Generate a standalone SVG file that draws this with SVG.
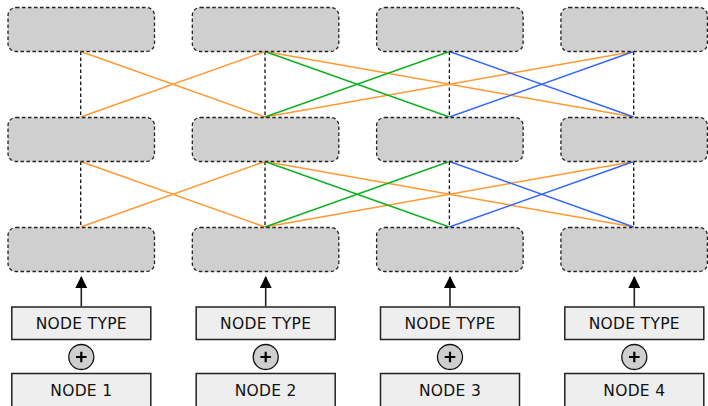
<svg xmlns="http://www.w3.org/2000/svg" width="708" height="406" viewBox="0 0 708 406">
  <style>
    .cell { fill: #cfcfcf; stroke: #222; stroke-width: 1.3; stroke-dasharray: 3.5 2.5; }
    .in { fill: #eeeeee; stroke: #222; stroke-width: 1.5; }
    .lbl { font-family: "DejaVu Sans", "Liberation Sans", sans-serif; font-size: 15.5px; letter-spacing: 0.3px; fill: #111; text-anchor: middle; }
    .v { stroke: #111; stroke-width: 1.3; stroke-dasharray: 3.5 2.5; fill: none; }
    .o { stroke: #ff9933; stroke-width: 1.5; fill: none; }
    .g { stroke: #11b022; stroke-width: 1.5; fill: none; }
    .b { stroke: #3366ff; stroke-width: 1.5; fill: none; }
    .arr { stroke: #222; stroke-width: 1.6; fill: none; }
    .add { fill: #cfcfcf; stroke: #111; stroke-width: 1.3; }
    .plus { stroke: #000; stroke-width: 2.2; fill: none; }
  </style>
  <defs>
    <marker id="head" viewBox="0 0 12 12" refX="11" refY="6" markerWidth="12" markerHeight="12" markerUnits="userSpaceOnUse" orient="auto">
      <path d="M0,0 L12,6 L0,12 Z" fill="#000"/>
    </marker>
  </defs>

  <!-- connectors -->
  <g id="connectors">
    <!-- layer 1 to layer 2 -->
    <path class="v" d="M80.7,51.5 V117 M265,51.5 V117 M449.4,51.5 V117 M633.7,51.5 V117"/>
    <path class="o" d="M80.7,51.5 L265,117 M265,51.5 L80.7,117 M265,51.5 L633.7,117 M633.7,51.5 L265,117"/>
    <path class="g" d="M265,51.5 L449.4,117 M449.4,51.5 L265,117"/>
    <path class="b" d="M449.4,51.5 L633.7,117 M633.7,51.5 L449.4,117"/>
    <!-- layer 2 to layer 3 -->
    <path class="v" d="M80.7,161.5 V227 M265,161.5 V227 M449.4,161.5 V227 M633.7,161.5 V227"/>
    <path class="o" d="M80.7,161.5 L265,227 M265,161.5 L80.7,227 M265,161.5 L633.7,227 M633.7,161.5 L265,227"/>
    <path class="g" d="M265,161.5 L449.4,227 M449.4,161.5 L265,227"/>
    <path class="b" d="M449.4,161.5 L633.7,227 M633.7,161.5 L449.4,227"/>
    <!-- inputs into layer 3 -->
    <path class="arr" marker-end="url(#head)" d="M81.3,306.5 V277"/>
    <path class="arr" marker-end="url(#head)" d="M265.7,306.5 V277"/>
    <path class="arr" marker-end="url(#head)" d="M450,306.5 V277"/>
    <path class="arr" marker-end="url(#head)" d="M634.3,306.5 V277"/>
  </g>

  <!-- layer 1 -->
  <g id="n1-1"><rect class="cell" x="8" y="7.5" width="146.5" height="44" rx="8"/></g>
  <g id="n1-2"><rect class="cell" x="192.3" y="7.5" width="146.5" height="44" rx="8"/></g>
  <g id="n1-3"><rect class="cell" x="376.6" y="7.5" width="146.5" height="44" rx="8"/></g>
  <g id="n1-4"><rect class="cell" x="560.9" y="7.5" width="146.5" height="44" rx="8"/></g>
  <!-- layer 2 -->
  <g id="n2-1"><rect class="cell" x="8" y="117.5" width="146.5" height="44" rx="8"/></g>
  <g id="n2-2"><rect class="cell" x="192.3" y="117.5" width="146.5" height="44" rx="8"/></g>
  <g id="n2-3"><rect class="cell" x="376.6" y="117.5" width="146.5" height="44" rx="8"/></g>
  <g id="n2-4"><rect class="cell" x="560.9" y="117.5" width="146.5" height="44" rx="8"/></g>
  <!-- layer 3 -->
  <g id="n3-1"><rect class="cell" x="8" y="227.5" width="146.5" height="44" rx="8"/></g>
  <g id="n3-2"><rect class="cell" x="192.3" y="227.5" width="146.5" height="44" rx="8"/></g>
  <g id="n3-3"><rect class="cell" x="376.6" y="227.5" width="146.5" height="44" rx="8"/></g>
  <g id="n3-4"><rect class="cell" x="560.9" y="227.5" width="146.5" height="44" rx="8"/></g>

  <!-- type embeddings -->
  <g id="type-1"><rect class="in" x="11.8" y="307" width="139" height="32.5"/><text class="lbl" x="81.3" y="329">NODE TYPE</text></g>
  <g id="type-2"><rect class="in" x="196.2" y="307" width="139" height="32.5"/><text class="lbl" x="265.7" y="329">NODE TYPE</text></g>
  <g id="type-3"><rect class="in" x="380.5" y="307" width="139" height="32.5"/><text class="lbl" x="450" y="329">NODE TYPE</text></g>
  <g id="type-4"><rect class="in" x="564.8" y="307" width="139" height="32.5"/><text class="lbl" x="634.3" y="329">NODE TYPE</text></g>

  <!-- sums -->
  <g id="add-1"><circle class="add" cx="81.3" cy="357" r="12.5"/><path class="plus" d="M76,357 H86.6 M81.3,351.7 V362.3"/></g>
  <g id="add-2"><circle class="add" cx="265.7" cy="357" r="12.5"/><path class="plus" d="M260.4,357 H271 M265.7,351.7 V362.3"/></g>
  <g id="add-3"><circle class="add" cx="450" cy="357" r="12.5"/><path class="plus" d="M444.7,357 H455.3 M450,351.7 V362.3"/></g>
  <g id="add-4"><circle class="add" cx="634.3" cy="357" r="12.5"/><path class="plus" d="M629,357 H639.6 M634.3,351.7 V362.3"/></g>

  <!-- input nodes -->
  <g id="node-1"><rect class="in" x="11.8" y="373.5" width="139" height="34"/><text class="lbl" x="81.3" y="395.5">NODE 1</text></g>
  <g id="node-2"><rect class="in" x="196.2" y="373.5" width="139" height="34"/><text class="lbl" x="265.7" y="395.5">NODE 2</text></g>
  <g id="node-3"><rect class="in" x="380.5" y="373.5" width="139" height="34"/><text class="lbl" x="450" y="395.5">NODE 3</text></g>
  <g id="node-4"><rect class="in" x="564.8" y="373.5" width="139" height="34"/><text class="lbl" x="634.3" y="395.5">NODE 4</text></g>
</svg>
